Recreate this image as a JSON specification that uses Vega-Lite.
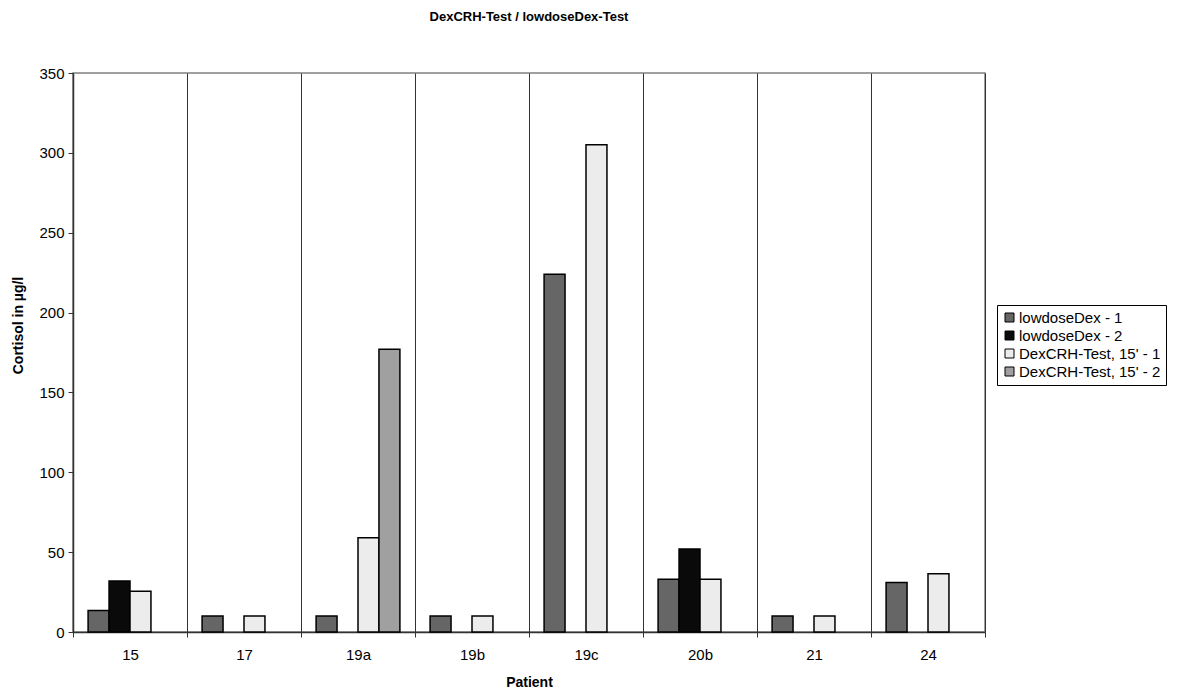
{
  "$schema": "https://vega.github.io/schema/vega-lite/v6.json",
  "width": 912,
  "height": 559,
  "autosize": {"type": "none"},
  "padding": {"left": 73, "top": 73, "right": 203, "bottom": 63},
  "background": "white",
  "title": {
    "text": "DexCRH-Test / lowdoseDex-Test",
    "font": "Liberation Sans",
    "fontSize": 13,
    "fontWeight": "bold",
    "color": "black",
    "anchor": "middle",
    "frame": "group",
    "offset": 42
  },
  "config": {
    "font": "Liberation Sans",
    "view": {"stroke": "#808080", "strokeWidth": 1.5}
  },
  "data": {
    "values": [
      {"patient": "15", "series": "lowdoseDex - 1", "cortisol": 13.5},
      {"patient": "15", "series": "lowdoseDex - 2", "cortisol": 32},
      {"patient": "15", "series": "DexCRH-Test, 15' - 1", "cortisol": 25.5},
      {"patient": "17", "series": "lowdoseDex - 1", "cortisol": 10},
      {"patient": "17", "series": "DexCRH-Test, 15' - 1", "cortisol": 10},
      {"patient": "19a", "series": "lowdoseDex - 1", "cortisol": 10},
      {"patient": "19a", "series": "DexCRH-Test, 15' - 1", "cortisol": 59},
      {"patient": "19a", "series": "DexCRH-Test, 15' - 2", "cortisol": 177},
      {"patient": "19b", "series": "lowdoseDex - 1", "cortisol": 10},
      {"patient": "19b", "series": "DexCRH-Test, 15' - 1", "cortisol": 10},
      {"patient": "19c", "series": "lowdoseDex - 1", "cortisol": 224},
      {"patient": "19c", "series": "DexCRH-Test, 15' - 1", "cortisol": 305},
      {"patient": "20b", "series": "lowdoseDex - 1", "cortisol": 33},
      {"patient": "20b", "series": "lowdoseDex - 2", "cortisol": 52},
      {"patient": "20b", "series": "DexCRH-Test, 15' - 1", "cortisol": 33},
      {"patient": "21", "series": "lowdoseDex - 1", "cortisol": 10},
      {"patient": "21", "series": "DexCRH-Test, 15' - 1", "cortisol": 10},
      {"patient": "24", "series": "lowdoseDex - 1", "cortisol": 31},
      {"patient": "24", "series": "DexCRH-Test, 15' - 1", "cortisol": 36.5}
    ]
  },
  "mark": {"type": "bar", "stroke": "black", "strokeWidth": 1.5, "cornerRadius": 0},
  "encoding": {
    "x": {
      "field": "patient",
      "type": "nominal",
      "sort": ["15", "17", "19a", "19b", "19c", "20b", "21", "24"],
      "scale": {"paddingInner": 0, "paddingOuter": 0},
      "axis": {
        "title": "Patient",
        "titleFontSize": 14,
        "titleFontWeight": "bold",
        "titleColor": "black",
        "titlePadding": 13,
        "labelAngle": 0,
        "labelFontSize": 15,
        "labelColor": "black",
        "labelPadding": 10,
        "tickBand": "extent",
        "tickSize": 5,
        "tickColor": "#333333",
        "domainColor": "#333333",
        "domainWidth": 1.5,
        "grid": true,
        "gridColor": "#333333",
        "gridWidth": 1
      }
    },
    "xOffset": {
      "field": "series",
      "type": "nominal",
      "sort": ["lowdoseDex - 1", "lowdoseDex - 2", "DexCRH-Test, 15' - 1", "DexCRH-Test, 15' - 2"],
      "scale": {
        "domain": ["lowdoseDex - 1", "lowdoseDex - 2", "DexCRH-Test, 15' - 1", "DexCRH-Test, 15' - 2"],
        "paddingInner": 0,
        "paddingOuter": 0.72
      }
    },
    "y": {
      "field": "cortisol",
      "type": "quantitative",
      "scale": {"domain": [0, 350], "nice": false},
      "axis": {
        "title": "Cortisol in µg/l",
        "titleFontSize": 14,
        "titleFontWeight": "bold",
        "titleColor": "black",
        "titlePadding": 13,
        "titleY": 252,
        "values": [0, 50, 100, 150, 200, 250, 300, 350],
        "labelFontSize": 15,
        "labelColor": "black",
        "labelPadding": 4,
        "tickSize": 5,
        "tickColor": "#333333",
        "domainColor": "#333333",
        "domainWidth": 1.5,
        "grid": false
      }
    },
    "fill": {
      "field": "series",
      "type": "nominal",
      "scale": {
        "domain": ["lowdoseDex - 1", "lowdoseDex - 2", "DexCRH-Test, 15' - 1", "DexCRH-Test, 15' - 2"],
        "range": ["#666666", "#0a0a0a", "#ececec", "#a0a0a0"]
      },
      "legend": {
        "title": null,
        "orient": "none",
        "legendX": 924,
        "legendY": 232,
        "strokeColor": "black",
        "fillColor": "white",
        "padding": 5,
        "symbolType": "square",
        "symbolSize": 81,
        "symbolStrokeColor": "black",
        "symbolStrokeWidth": 1,
        "labelFontSize": 15,
        "labelColor": "black",
        "labelOffset": 2,
        "rowPadding": 2,
        "labelLimit": 300
      }
    }
  }
}
